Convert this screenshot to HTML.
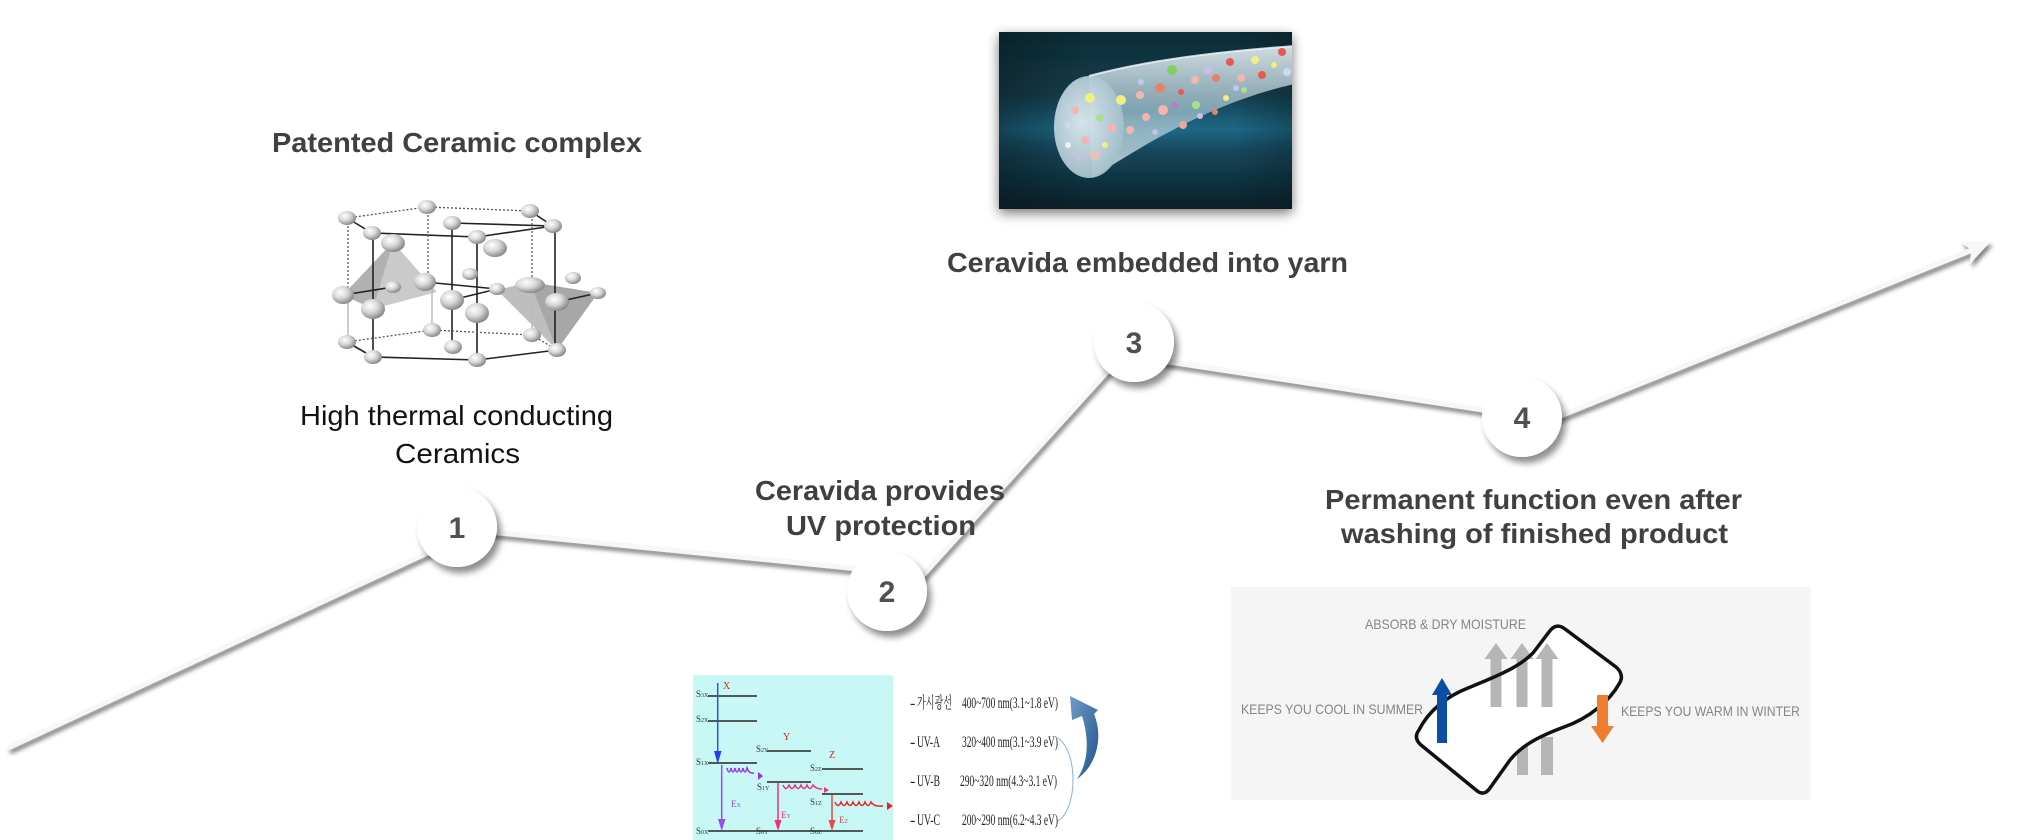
<!DOCTYPE html>
<html><head><meta charset="utf-8">
<style>
html,body{margin:0;padding:0;background:#fff;}
svg{display:block;}
</style></head><body>
<svg width="2033" height="840" viewBox="0 0 2033 840" xmlns="http://www.w3.org/2000/svg">
<defs>
  <filter id="lsh" filterUnits="userSpaceOnUse" x="0" y="0" width="2033" height="840">
    <feGaussianBlur in="SourceAlpha" stdDeviation="2.2"/>
    <feOffset dx="2" dy="4" result="o"/>
    <feComponentTransfer in="o" result="s"><feFuncA type="linear" slope="0.5"/></feComponentTransfer>
    <feMerge><feMergeNode in="s"/><feMergeNode in="SourceGraphic"/></feMerge>
  </filter>
  <filter id="csh" x="-40%" y="-40%" width="180%" height="180%">
    <feGaussianBlur in="SourceAlpha" stdDeviation="3.5"/>
    <feOffset dx="4" dy="6" result="o"/>
    <feComponentTransfer in="o" result="s"><feFuncA type="linear" slope="0.45"/></feComponentTransfer>
    <feMerge><feMergeNode in="s"/><feMergeNode in="SourceGraphic"/></feMerge>
  </filter>
  <filter id="ish" x="-10%" y="-10%" width="120%" height="125%">
    <feGaussianBlur in="SourceAlpha" stdDeviation="6"/>
    <feOffset dx="0" dy="4" result="o"/>
    <feComponentTransfer in="o" result="s"><feFuncA type="linear" slope="0.55"/></feComponentTransfer>
    <feMerge><feMergeNode in="s"/><feMergeNode in="SourceGraphic"/></feMerge>
  </filter>
  <radialGradient id="sph" cx="38%" cy="35%" r="65%">
    <stop offset="0" stop-color="#ffffff"/>
    <stop offset="0.5" stop-color="#d8d8d8"/>
    <stop offset="1" stop-color="#8a8a8a"/>
  </radialGradient>
  <linearGradient id="ybg" x1="0" y1="0" x2="0" y2="1">
    <stop offset="0" stop-color="#0f2c37"/>
    <stop offset="0.35" stop-color="#143d4c"/>
    <stop offset="0.55" stop-color="#1e6884"/>
    <stop offset="0.68" stop-color="#15465a"/>
    <stop offset="1" stop-color="#0a1f28"/>
  </linearGradient>
  <linearGradient id="yvig" x1="0" y1="0" x2="1" y2="0">
    <stop offset="0" stop-color="#06161c" stop-opacity="0.45"/>
    <stop offset="0.3" stop-color="#06161c" stop-opacity="0"/>
    <stop offset="0.8" stop-color="#06161c" stop-opacity="0"/>
    <stop offset="1" stop-color="#06161c" stop-opacity="0.3"/>
  </linearGradient>
  <linearGradient id="tube" x1="0" y1="0" x2="0" y2="1">
    <stop offset="0" stop-color="#e6f0f4" stop-opacity="0.9"/>
    <stop offset="0.5" stop-color="#a9c6d2" stop-opacity="0.7"/>
    <stop offset="1" stop-color="#d6e6ec" stop-opacity="0.85"/>
  </linearGradient>
  <radialGradient id="cap" cx="40%" cy="45%" r="60%">
    <stop offset="0" stop-color="#dfeaf0"/>
    <stop offset="1" stop-color="#a3bfcb"/>
  </radialGradient>
  <linearGradient id="carr" x1="0" y1="0" x2="1" y2="1">
    <stop offset="0" stop-color="#6f9bc8"/>
    <stop offset="1" stop-color="#23548a"/>
  </linearGradient>
  <clipPath id="yclip"><rect x="999" y="32" width="293" height="177"/></clipPath>
</defs>

<!-- connector lines -->
<g filter="url(#lsh)" stroke="#f7f7f7" stroke-width="5" stroke-linecap="round" fill="none">
  <line x1="10" y1="747" x2="440" y2="547"/>
  <line x1="470" y1="530" x2="860" y2="569"/>
  <line x1="905" y1="595" x2="1134" y2="342"/>
  <line x1="1150" y1="359" x2="1510" y2="414"/>
  <line x1="1535" y1="426" x2="1972" y2="250"/>
  <polygon points="1991,241 1960,241 1971,250 1970,264" fill="#f7f7f7" stroke="none"/>
</g>

<!-- circles -->
<g filter="url(#csh)" fill="#ffffff">
  <circle cx="457" cy="527" r="40"/>
  <circle cx="887" cy="591" r="40"/>
  <circle cx="1134" cy="342" r="40"/>
  <circle cx="1522" cy="417" r="40"/>
</g>
<g font-family="Liberation Sans, Arial, sans-serif" font-weight="bold" font-size="30" fill="#505050" text-anchor="middle">
  <text x="457" y="538">1</text>
  <text x="887" y="602">2</text>
  <text x="1134" y="353">3</text>
  <text x="1522" y="428">4</text>
</g>

<!-- headings -->
<g font-family="Liberation Sans, Arial, sans-serif" font-weight="bold" font-size="28" fill="#404040">
  <text x="272" y="152" textLength="370" lengthAdjust="spacingAndGlyphs">Patented Ceramic complex</text>
  <text x="947" y="272" textLength="401" lengthAdjust="spacingAndGlyphs">Ceravida embedded into yarn</text>
  <text x="755" y="500" textLength="250" lengthAdjust="spacingAndGlyphs">Ceravida provides</text>
  <text x="786" y="535" textLength="190" lengthAdjust="spacingAndGlyphs">UV protection</text>
  <text x="1325" y="509" textLength="417" lengthAdjust="spacingAndGlyphs">Permanent function even after</text>
  <text x="1341" y="543" textLength="387" lengthAdjust="spacingAndGlyphs">washing of finished product</text>
</g>
<g font-family="Liberation Sans, Arial, sans-serif" font-size="28" fill="#111">
  <text x="300" y="425" textLength="313" lengthAdjust="spacingAndGlyphs">High thermal conducting</text>
  <text x="395" y="463" textLength="125" lengthAdjust="spacingAndGlyphs">Ceramics</text>
</g>

<!-- lattice -->
<g>
  <polygon points="343,295 393,242 437,292 373,309" fill="#b8b8b8" opacity="0.75"/>
  <polygon points="343,295 393,242 373,309" fill="#a0a0a0" opacity="0.6"/>
  <polygon points="497,290 530,282 598,293 557,350" fill="#a8a8a8" opacity="0.75"/>
  <polygon points="530,282 598,293 557,350" fill="#909090" opacity="0.5"/>
  <g stroke="#222" stroke-width="1.6" fill="none">
    <line x1="347" y1="218" x2="372" y2="233"/>
    <line x1="372" y1="233" x2="477" y2="237"/>
    <line x1="477" y1="237" x2="553" y2="226"/>
    <line x1="553" y1="226" x2="530" y2="211"/>
    <line x1="452" y1="223" x2="553" y2="226"/>
    <line x1="373" y1="233" x2="373" y2="357"/>
    <line x1="452" y1="223" x2="452" y2="347"/>
    <line x1="477" y1="237" x2="477" y2="360"/>
    <line x1="555" y1="226" x2="555" y2="350"/>
    <line x1="347" y1="342" x2="373" y2="357"/>
    <line x1="373" y1="357" x2="477" y2="360"/>
    <line x1="477" y1="360" x2="557" y2="350"/>
    <line x1="343" y1="295" x2="393" y2="287"/>
    <line x1="425" y1="282" x2="497" y2="289"/>
    <line x1="452" y1="300" x2="497" y2="289"/>
    <line x1="557" y1="302" x2="598" y2="293"/>
  </g>
  <g stroke="#555" stroke-width="1.3" stroke-dasharray="2,2" fill="none">
    <line x1="347" y1="218" x2="427" y2="207"/>
    <line x1="427" y1="207" x2="530" y2="211"/>
    <line x1="348" y1="218" x2="348" y2="295"/>
    <line x1="428" y1="207" x2="428" y2="282"/>
    <line x1="532" y1="211" x2="532" y2="285"/>
    <line x1="347" y1="342" x2="432" y2="330"/>
    <line x1="432" y1="330" x2="532" y2="335"/>
    <line x1="532" y1="335" x2="557" y2="350"/>
  </g>
  <g stroke="#bbb" stroke-width="1.5">
    <line x1="348" y1="295" x2="348" y2="342"/>
    <line x1="432" y1="282" x2="432" y2="330"/>
    <line x1="532" y1="285" x2="532" y2="335"/>
  </g>
  <g fill="url(#sph)">
    <ellipse cx="347" cy="218" rx="9" ry="7"/>
    <ellipse cx="427" cy="207" rx="9" ry="7"/>
    <ellipse cx="530" cy="211" rx="9" ry="7"/>
    <ellipse cx="372" cy="233" rx="9" ry="7"/>
    <ellipse cx="452" cy="223" rx="9" ry="7"/>
    <ellipse cx="553" cy="226" rx="9" ry="7"/>
    <ellipse cx="393" cy="243" rx="12" ry="9"/>
    <ellipse cx="477" cy="237" rx="9" ry="7"/>
    <ellipse cx="495" cy="248" rx="12" ry="9"/>
    <ellipse cx="343" cy="295" rx="11" ry="9"/>
    <ellipse cx="393" cy="287" rx="8" ry="6"/>
    <ellipse cx="425" cy="282" rx="11" ry="9"/>
    <ellipse cx="470" cy="274" rx="8" ry="6"/>
    <ellipse cx="452" cy="300" rx="12" ry="10"/>
    <ellipse cx="373" cy="309" rx="12" ry="10"/>
    <ellipse cx="477" cy="313" rx="12" ry="10"/>
    <ellipse cx="497" cy="289" rx="8" ry="6"/>
    <ellipse cx="530" cy="285" rx="15" ry="8"/>
    <ellipse cx="557" cy="302" rx="12" ry="9"/>
    <ellipse cx="573" cy="278" rx="8" ry="6"/>
    <ellipse cx="598" cy="293" rx="8" ry="6"/>
    <ellipse cx="347" cy="342" rx="9" ry="7"/>
    <ellipse cx="432" cy="330" rx="9" ry="7"/>
    <ellipse cx="453" cy="347" rx="9" ry="7"/>
    <ellipse cx="373" cy="357" rx="9" ry="7"/>
    <ellipse cx="477" cy="360" rx="9" ry="7"/>
    <ellipse cx="532" cy="335" rx="9" ry="7"/>
    <ellipse cx="557" cy="350" rx="9" ry="7"/>
  </g>
</g>

<!-- yarn image -->
<g filter="url(#ish)">
  <rect x="999" y="32" width="293" height="177" fill="url(#ybg)"/>
</g>
<g clip-path="url(#yclip)">
  <rect x="999" y="32" width="293" height="177" fill="url(#yvig)"/>
  <path d="M1089,76 C1140,62 1210,52 1295,46 L1295,84 C1220,100 1150,140 1092,178 Z" fill="url(#tube)"/>
  <ellipse cx="1089" cy="127" rx="35" ry="51" fill="url(#cap)" opacity="0.95"/>
  <path d="M1089,76 C1140,62 1210,52 1295,46" stroke="#f4fafc" stroke-width="2" fill="none" opacity="0.8"/>
  <g>
    <circle cx="1075" cy="110" r="4" fill="#f0b8b0"/>
    <circle cx="1090" cy="98" r="5" fill="#eef080"/>
    <circle cx="1068" cy="125" r="3" fill="#d0d8f0"/>
    <circle cx="1085" cy="140" r="4" fill="#f4b4b0"/>
    <circle cx="1100" cy="118" r="4" fill="#a8e090"/>
    <circle cx="1095" cy="155" r="5" fill="#e8c0c0"/>
    <circle cx="1078" cy="158" r="3" fill="#c8c0e8"/>
    <circle cx="1105" cy="145" r="3" fill="#f0f080"/>
    <circle cx="1112" cy="128" r="4" fill="#f4b4b0"/>
    <circle cx="1068" cy="145" r="3" fill="#f0f0f0"/>
    <circle cx="1121" cy="100" r="5" fill="#f0f080"/>
    <circle cx="1140" cy="95" r="4" fill="#f4b4b0"/>
    <circle cx="1160" cy="88" r="5" fill="#e88070"/>
    <circle cx="1141" cy="82" r="3" fill="#c0c8f0"/>
    <circle cx="1146" cy="117" r="4" fill="#f4b4b0"/>
    <circle cx="1172" cy="70" r="5" fill="#80d060"/>
    <circle cx="1163" cy="110" r="5" fill="#f4b4b0"/>
    <circle cx="1183" cy="125" r="4" fill="#e8a8a0"/>
    <circle cx="1181" cy="92" r="3" fill="#e85a50"/>
    <circle cx="1195" cy="80" r="4" fill="#f4b4b0"/>
    <circle cx="1196" cy="105" r="4" fill="#a8e090"/>
    <circle cx="1208" cy="70" r="4" fill="#c8c0e8"/>
    <circle cx="1216" cy="78" r="4" fill="#e88070"/>
    <circle cx="1226" cy="98" r="3" fill="#f0f080"/>
    <circle cx="1230" cy="62" r="4" fill="#e85a50"/>
    <circle cx="1241" cy="78" r="4" fill="#f4b4b0"/>
    <circle cx="1244" cy="90" r="3" fill="#a8e090"/>
    <circle cx="1255" cy="60" r="4" fill="#f0f080"/>
    <circle cx="1262" cy="75" r="4" fill="#e85a50"/>
    <circle cx="1274" cy="65" r="3" fill="#f0f080"/>
    <circle cx="1282" cy="52" r="4" fill="#e85a50"/>
    <circle cx="1287" cy="72" r="4" fill="#d0d8f0"/>
    <circle cx="1215" cy="112" r="3" fill="#e88070"/>
    <circle cx="1200" cy="116" r="3" fill="#c8c0e8"/>
    <circle cx="1130" cy="130" r="4" fill="#f4b4b0"/>
    <circle cx="1155" cy="132" r="3" fill="#c8c0e8"/>
    <circle cx="1175" cy="105" r="3" fill="#d070c0"/>
    <circle cx="1236" cy="88" r="3" fill="#c0c8f0"/>
  </g>
</g>

<!-- UV diagram -->
<rect x="693" y="675" width="200" height="165" fill="#c8f8f6"/>
<g stroke="#505858" stroke-width="2">
  <line x1="708" y1="696" x2="757" y2="696"/>
  <line x1="708" y1="721" x2="757" y2="721"/>
  <line x1="708" y1="763" x2="757" y2="763"/>
  <line x1="708" y1="831" x2="863" y2="831"/>
  <line x1="767" y1="751" x2="811" y2="751"/>
  <line x1="767" y1="782" x2="811" y2="782"/>
  <line x1="822" y1="769" x2="863" y2="769"/>
  <line x1="822" y1="794" x2="863" y2="794"/>
</g>
<g font-family="Liberation Serif, serif" font-size="9" fill="#333">
  <text x="696" y="697">S<tspan font-size="6">3X</tspan></text>
  <text x="696" y="722">S<tspan font-size="6">2X</tspan></text>
  <text x="696" y="765">S<tspan font-size="6">1X</tspan></text>
  <text x="696" y="834">S<tspan font-size="6">0X</tspan></text>
  <text x="756" y="752">S<tspan font-size="6">2Y</tspan></text>
  <text x="757" y="790">S<tspan font-size="6">1Y</tspan></text>
  <text x="756" y="834">S<tspan font-size="6">0Y</tspan></text>
  <text x="810" y="771">S<tspan font-size="6">2Z</tspan></text>
  <text x="810" y="805">S<tspan font-size="6">1Z</tspan></text>
  <text x="810" y="834">S<tspan font-size="6">0Z</tspan></text>
</g>
<g font-family="Liberation Serif, serif" font-size="10" fill="#e02020">
  <text x="723" y="689">X</text>
  <text x="783" y="740">Y</text>
  <text x="829" y="758">Z</text>
</g>
<g fill="none" stroke-width="1.5">
  <line x1="717.7" y1="683" x2="717.7" y2="754" stroke="#3050f0"/>
  <line x1="721.7" y1="765" x2="721.7" y2="821" stroke="#9a4af0"/>
  <line x1="778" y1="783" x2="778" y2="821" stroke="#f03070"/>
  <line x1="832" y1="795" x2="832" y2="821" stroke="#e84848"/>
  <path d="M727,768 q2,8 4,0 q2,8 4,0 q2,8 4,0 q2,8 4,0 q2,8 4,0 q2,6 7,5" stroke="#9a30f0"/>
  <path d="M783,785 q3,7 6,0 q3,7 6,0 q3,7 6,0 q3,7 6,0 q3,7 6,0 q3,4 9,4" stroke="#f0307a"/>
  <path d="M835,802 q3,7 6,0 q3,7 6,0 q3,7 6,0 q3,7 6,0 q3,7 6,0 q3,7 6,0 q3,5 12,4" stroke="#f02020"/>
</g>
<g>
  <polygon points="714,751 721.5,751 717.7,764" fill="#2040f0"/>
  <polygon points="718,819 725.5,819 721.7,831" fill="#9a4af0"/>
  <polygon points="774.5,820 781.5,820 778,831" fill="#f03070"/>
  <polygon points="828.5,820 835.5,820 832,831" fill="#e84848"/>
  <polygon points="758,772 763,776 758,780" fill="#9a30f0"/>
  <polygon points="824,787 829,790 824,793" fill="#f0307a"/>
  <polygon points="887,802 893,806 887,810" fill="#f02020"/>
</g>
<g font-family="Liberation Serif, serif" font-size="9">
  <text x="731" y="807" fill="#9a4af0">E<tspan font-size="6">X</tspan></text>
  <text x="781" y="818" fill="#f03070">E<tspan font-size="6">Y</tspan></text>
  <text x="839" y="823" fill="#e84848">E<tspan font-size="6">Z</tspan></text>
</g>
<g font-family="Liberation Serif, 'Noto Serif CJK SC', 'Noto Sans CJK KR', serif" font-size="16" fill="#222">
  <text x="910" y="708">-</text>
  <text x="917" y="708" textLength="35" lengthAdjust="spacingAndGlyphs">가시광선</text>
  <text x="962" y="708" textLength="96" lengthAdjust="spacingAndGlyphs">400~700 nm(3.1~1.8 eV)</text>
  <text x="910" y="747">-</text>
  <text x="917" y="747" textLength="23" lengthAdjust="spacingAndGlyphs">UV-A</text>
  <text x="962" y="747" textLength="96" lengthAdjust="spacingAndGlyphs">320~400 nm(3.1~3.9 eV)</text>
  <text x="910" y="786">-</text>
  <text x="917" y="786" textLength="23" lengthAdjust="spacingAndGlyphs">UV-B</text>
  <text x="960" y="786" textLength="97" lengthAdjust="spacingAndGlyphs">290~320 nm(4.3~3.1 eV)</text>
  <text x="910" y="825">-</text>
  <text x="917" y="825" textLength="23" lengthAdjust="spacingAndGlyphs">UV-C</text>
  <text x="962" y="825" textLength="96" lengthAdjust="spacingAndGlyphs">200~290 nm(6.2~4.3 eV)</text>
</g>
<path d="M1058,738 C1078,752 1078,808 1058,821" fill="none" stroke="#8ab0d8" stroke-width="1"/>
<path d="M1077,779 C1096,766 1104,738 1094,714 L1098,710 L1070,696 L1072,720 L1082,716 C1089,738 1089,762 1077,779 Z" fill="url(#carr)"/>

<!-- fabric box -->
<rect x="1231" y="587" width="580" height="213" fill="#f5f5f5"/>
<g fill="#b6b6b6">
  <rect x="1517" y="737" width="11" height="38"/>
  <rect x="1541" y="737" width="12" height="38"/>
</g>
<path d="M1419,730 C1428,712 1445,697 1468,688 C1495,677 1518,668 1533,653 L1549,632 Q1556,622 1565,629 L1616,667 Q1625,675 1619,684 C1610,700 1590,718 1564,727 C1540,736 1522,745 1510,760 L1490,788 Q1484,797 1476,790 L1421,745 Q1413,738 1419,730 Z" fill="#ffffff"/>
<g fill="#b6b6b6">
  <polygon points="1496,643 1507.5,659 1501.5,659 1501.5,707 1490.5,707 1490.5,659 1484.5,659"/>
  <polygon points="1522,643 1533.5,659 1527.5,659 1527.5,707 1516.5,707 1516.5,659 1510.5,659"/>
  <polygon points="1547,643 1558.5,659 1552.5,659 1552.5,707 1541.5,707 1541.5,659 1535.5,659"/>
</g>
<path d="M1419,730 C1428,712 1445,697 1468,688 C1495,677 1518,668 1533,653 L1549,632 Q1556,622 1565,629 L1616,667 Q1625,675 1619,684 C1610,700 1590,718 1564,727 C1540,736 1522,745 1510,760 L1490,788 Q1484,797 1476,790 L1421,745 Q1413,738 1419,730 Z" fill="none" stroke="#111" stroke-width="3.5" stroke-linejoin="round"/>
<polygon points="1442,678 1452,695 1447,695 1447,743 1437,743 1437,695 1432,695" fill="#0b4ea2"/>
<polygon points="1597,695 1608,695 1608,726 1614,726 1602.5,743 1591,726 1597,726" fill="#ef7d2d"/>
<g font-family="Liberation Sans, Arial, sans-serif" font-size="14" fill="#858585">
  <text x="1365" y="629" textLength="161" lengthAdjust="spacingAndGlyphs">ABSORB &amp; DRY MOISTURE</text>
  <text x="1241" y="714" textLength="182" lengthAdjust="spacingAndGlyphs">KEEPS YOU COOL IN SUMMER</text>
  <text x="1621" y="716" textLength="179" lengthAdjust="spacingAndGlyphs">KEEPS YOU WARM IN WINTER</text>
</g>
</svg>
</body></html>
